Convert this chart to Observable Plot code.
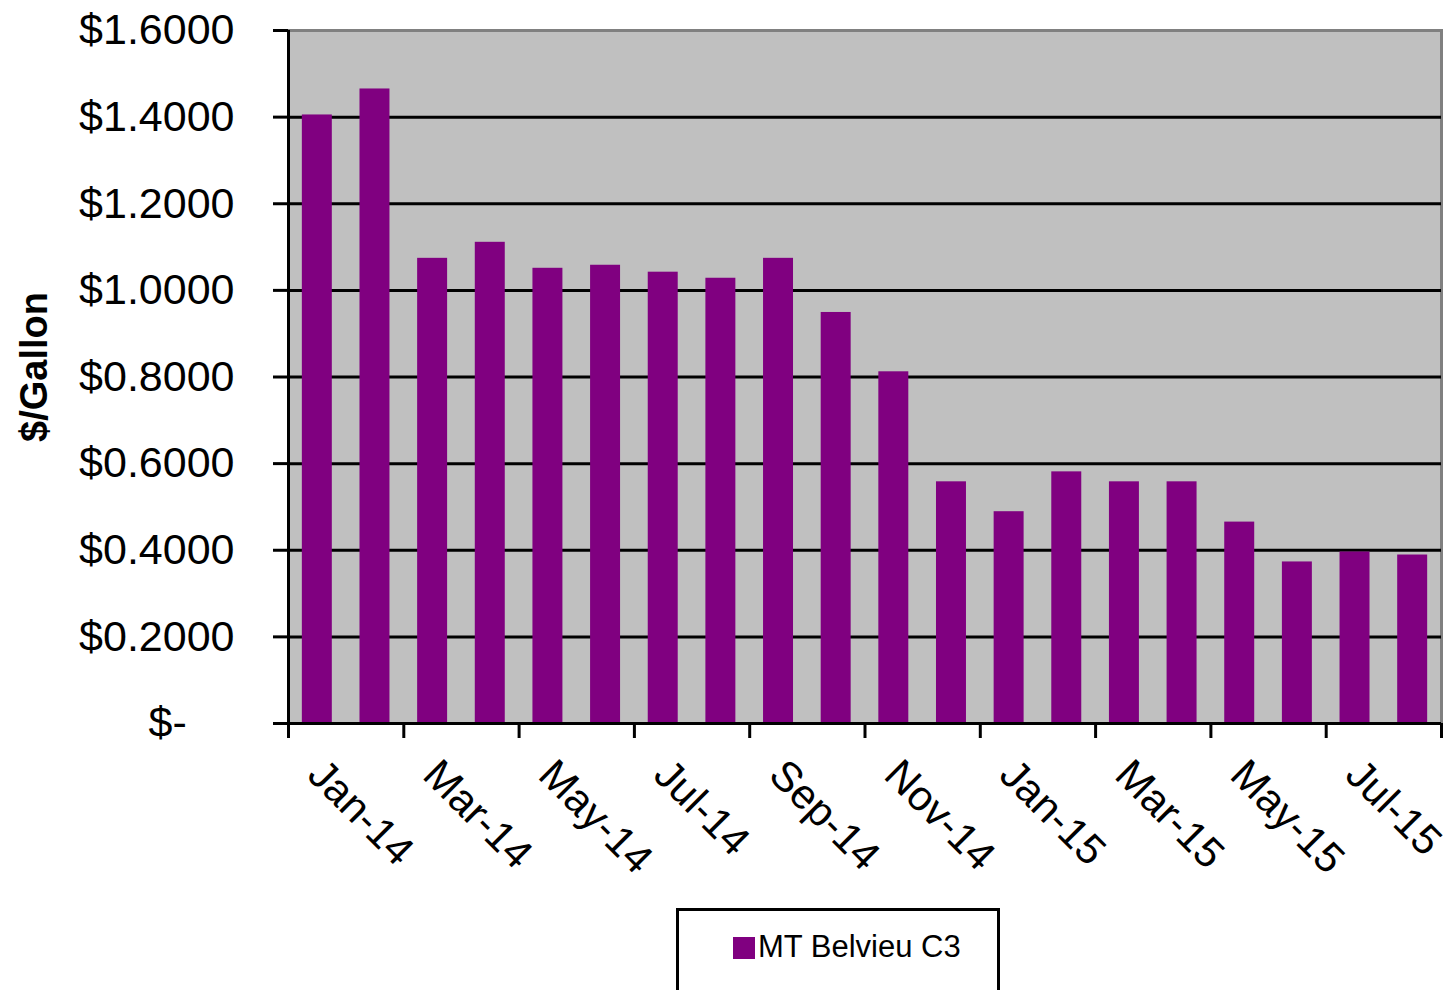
<!DOCTYPE html>
<html>
<head>
<meta charset="utf-8">
<script src="https://cdn.jsdelivr.net/npm/d3@7"></script>
<script src="https://cdn.jsdelivr.net/npm/@observablehq/plot@0.6"></script>
<style>
  html, body { margin: 0; padding: 0; background: #fff; overflow: hidden; width: 1452px; height: 990px; }
  #chart { position: absolute; left: 0; top: 0; }
  #chart svg { overflow: visible; }
  #legend {
    position: absolute; left: 676px; top: 908px; width: 324px; height: 120px;
    box-sizing: border-box; border: 3px solid #000; background: #fff;
    font-family: 'Liberation Sans', Arial, sans-serif; font-size: 31px; color: #000;
  }
  #legend .sw { position: absolute; left: 54px; top: 26px; width: 22px; height: 22px; background: #800080; }
  #legend .lb { position: absolute; left: 79px; top: 18px; line-height: 36px; white-space: nowrap; }
</style>
</head>
<body>
<div id="chart"></div>
<div id="legend"><span class="sw"></span><span class="lb">MT Belvieu C3</span></div>
<script>
const months = ["Jan-14","Feb-14","Mar-14","Apr-14","May-14","Jun-14","Jul-14","Aug-14","Sep-14","Oct-14","Nov-14","Dec-14",
                "Jan-15","Feb-15","Mar-15","Apr-15","May-15","Jun-15","Jul-15","Aug-15"];
const prices = [1.405,1.465,1.074,1.111,1.051,1.058,1.042,1.028,1.074,0.949,0.812,0.558,
                0.489,0.581,0.558,0.558,0.465,0.373,0.396,0.389];
const yTicks = [0,0.2,0.4,0.6,0.8,1.0,1.2,1.4,1.6];
const gridTicks = [0.2,0.4,0.6,0.8,1.0,1.2,1.4];
const labelMonths = months.filter((d, i) => i % 2 === 0);
const seriesName = "MT Belvieu C3";
const yTitle = "$/Gallon";

const data = months.map((m, i) => ({month: m, value: prices[i]}));

const W = 1452, H = 900, ML = 288, MR = 11, MT = 30, MB = 177;
const step = (W - ML - MR) / months.length;
const font = "'Liberation Sans', Arial, sans-serif";

const chart = Plot.plot({
  width: W,
  height: H,
  marginLeft: ML,
  marginRight: MR,
  marginTop: MT,
  marginBottom: MB,
  style: {fontFamily: font, background: "#fff", color: "#000"},
  x: {type: "band", domain: months, paddingInner: 0.48, paddingOuter: 0.24, round: false, axis: null},
  y: {domain: [0, 1.6], axis: null},
  marks: [
    Plot.frame({fill: "#C0C0C0", stroke: "#808080", strokeWidth: 3}),
    Plot.ruleY(gridTicks, {stroke: "#000", strokeWidth: 3}),
    Plot.barY(data, {x: "month", y: "value", fill: "#800080"}),
    // left axis line
    Plot.ruleX([months[0]], {x: d => d, dx: -step / 2, stroke: "#000", strokeWidth: 3}),
    // bottom axis line
    Plot.ruleY([0], {stroke: "#000", strokeWidth: 3}),
    // x tick marks between every second category
    Plot.ruleX(labelMonths, {x: d => d, y1: 0, y2: 0, dx: -step / 2, insetBottom: -15, stroke: "#000", strokeWidth: 3}),
    Plot.ruleX([months[months.length - 1]], {x: d => d, y1: 0, y2: 0, dx: step / 2, insetBottom: -15, stroke: "#000", strokeWidth: 3}),
    Plot.axisY({
      ticks: yTicks,
      tickSize: 15,
      tickPadding: 39,
      strokeWidth: 3,
      stroke: "#000",
      fontSize: 43,
      tickFormat: d => d === 0 ? "$-\u00a0\u00a0\u00a0\u00a0" : "$" + d.toFixed(4),
      label: null
    }),
    Plot.axisX({
      ticks: labelMonths,
      tickSize: 0,
      tickPadding: 44,
      tickRotate: 45,
      fontSize: 42,
      dx: -2,
      label: null
    }),
    Plot.text([yTitle], {
      frameAnchor: "left",
      text: d => d,
      dx: 34 - ML,
      dy: -10,
      rotate: -90,
      textAnchor: "middle",
      fontSize: 38,
      fontWeight: "bold",
      fill: "#000"
    })
  ]
});
document.getElementById("chart").appendChild(chart);
document.querySelector("#legend .lb").textContent = seriesName;
</script>
</body>
</html>
